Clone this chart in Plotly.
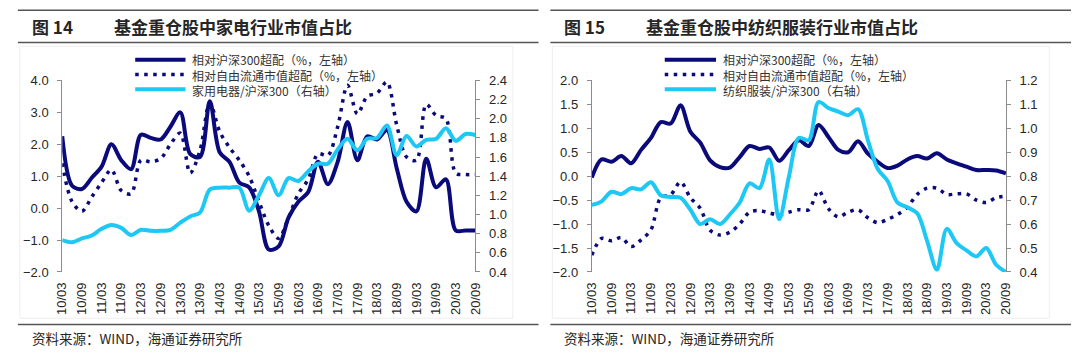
import plotly.graph_objects as go

# ---------------- data ----------------
quarters = ["10/03", "10/06", "10/09", "10/12", "11/03", "11/06", "11/09", "11/12",
            "12/03", "12/06", "12/09", "12/12", "13/03", "13/06", "13/09", "13/12",
            "14/03", "14/06", "14/09", "14/12", "15/03", "15/06", "15/09", "15/12",
            "16/03", "16/06", "16/09", "16/12", "17/03", "17/06", "17/09", "17/12",
            "18/03", "18/06", "18/09", "18/12", "19/03", "19/06", "19/09", "19/12",
            "20/03", "20/06", "20/09"]
tick_labels = ["10/03", "10/09", "11/03", "11/09", "12/03", "12/09", "13/03", "13/09",
               "14/03", "14/09", "15/03", "15/09", "16/03", "16/09", "17/03", "17/09",
               "18/03", "18/09", "19/03", "19/09", "20/03", "20/09"]

# 图14 家电
appl_vs_hs300 = [2.25, 0.7, 0.6, 0.95, 1.3, 2.0, 1.5, 1.22, 2.3, 2.2, 2.15, 2.55, 3.0, 1.7,
                 1.6, 3.35, 1.75, 1.45, 0.8, 0.65, -0.1, -1.3, -1.2, -0.3, 0.2, 0.5, 1.45,
                 0.75, 1.45, 2.7, 1.5, 2.25, 2.15, 2.45, 1.25, 0.2, -0.1, 1.55, 0.65, 0.9,
                 -0.7, -0.7, -0.7]
appl_vs_free = [1.4, 0.2, -0.1, 0.35, 0.8, 1.2, 0.55, 0.45, 1.5, 1.45, 1.55, 2.0, 2.35, 1.1,
                1.8, 3.3, 2.4, 1.9, 1.5, 1.0, 0.2, -0.55, -0.95, -0.3, 0.45, 0.9, 1.7, 1.65,
                2.55, 3.85, 2.95, 3.5, 3.6, 3.95, 2.6, 1.6, 1.5, 3.25, 2.9, 2.8, 1.1, 1.05,
                1.05]
appl_ratio = [0.733, 0.71, 0.75, 0.78, 0.85, 0.89, 0.86, 0.785, 0.84, 0.83, 0.83, 0.84,
              0.915, 0.98, 1.02, 1.26, 1.28, 1.28, 1.28, 1.04, 1.2, 1.38, 1.2, 1.38, 1.35,
              1.45, 1.53, 1.53, 1.68, 1.79, 1.67, 1.79, 1.8, 1.93, 1.62, 1.82, 1.71, 1.78,
              1.79, 1.9, 1.77, 1.84, 1.83]

# 图15 纺织服装
tex_vs_hs300 = [-0.03, 0.35, 0.3, 0.42, 0.27, 0.55, 0.8, 1.13, 1.1, 1.48, 0.93, 0.7, 0.33,
                0.19, 0.18, 0.4, 0.63, 0.57, 0.6, 0.32, 0.55, 0.75, 0.63, 1.07, 0.82, 0.55,
                0.5, 0.73, 0.47, 0.3, 0.17, 0.22, 0.35, 0.42, 0.37, 0.48, 0.35, 0.27, 0.2,
                0.13, 0.13, 0.12, 0.06]
tex_vs_free = [-1.65, -1.3, -1.35, -1.28, -1.47, -1.33, -1.12, -0.45, -0.39, -0.12, -0.45,
               -0.67, -1.13, -1.23, -1.17, -1.0, -0.75, -0.72, -0.77, -0.8, -0.75, -0.7,
               -0.7, -0.3, -0.68, -0.85, -0.75, -0.7, -0.87, -0.97, -0.9, -0.8, -0.65,
               -0.38, -0.25, -0.25, -0.38, -0.37, -0.37, -0.5, -0.55, -0.45, -0.42]
tex_ratio = [0.68, 0.695, 0.735, 0.725, 0.75, 0.745, 0.775, 0.72, 0.713, 0.71, 0.66, 0.6,
             0.62, 0.6, 0.64, 0.69, 0.77, 0.75, 0.87, 0.62, 0.8, 0.96, 0.95, 1.11, 1.085,
             1.07, 1.055, 1.08, 0.95, 0.83, 0.78, 0.69, 0.67, 0.645, 0.53, 0.41, 0.58,
             0.52, 0.49, 0.465, 0.5, 0.43, 0.4]

legend_left = ["相对沪深300超配（%，左轴）", "相对自由流通市值超配（%，左轴）", "家用电器/沪深300（右轴）"]
legend_right = ["相对沪深300超配（%，左轴）", "相对自由流通市值超配（%，左轴）", "纺织服装/沪深300（右轴）"]

# ---------------- style ----------------
W, H = 1080, 353
NAVY = "#0a0a7a"
CYAN = "#1ec8f5"
AXC = "#8c8c8c"
TXT = "#262626"
FONT = "Liberation Sans, Arial, Noto Sans CJK SC, sans-serif"
CJK = "Noto Sans CJK SC, Liberation Sans, sans-serif"
DOT = "3.5px,5.5px"


def fx(px):
    return px / W


def fy(py):
    return 1 - py / H


fig = go.Figure()


def add_line(y, xa, ya, color, dash, width):
    fig.add_trace(go.Scatter(x=quarters, y=y, xaxis=xa, yaxis=ya, mode="lines",
                             line=dict(color=color, width=width, dash=dash, shape="spline",
                                       smoothing=0.9),
                             showlegend=False, hoverinfo="skip"))


add_line(appl_vs_hs300, "x", "y", NAVY, "solid", 4)
add_line(appl_vs_free, "x", "y", NAVY, DOT, 3.5)
add_line(appl_ratio, "x", "y2", CYAN, "solid", 4)
add_line(tex_vs_hs300, "x2", "y3", NAVY, "solid", 4)
add_line(tex_vs_free, "x2", "y3", NAVY, DOT, 3.5)
add_line(tex_ratio, "x2", "y4", CYAN, "solid", 4)

Y0, Y1 = 276.7, 76.7
ydom = [fy(Y0), fy(Y1)]
L = dict(x0=55, x1=474)
R = dict(x0=592, x1=1012)

tickfont = dict(family=FONT, size=13, color=TXT)


def xcat(dom, anchor):
    return dict(domain=[fx(dom["x0"]), fx(dom["x1"])], anchor=anchor, type="category",
                categoryorder="array", categoryarray=quarters, range=[0, 42],
                tickmode="array", tickvals=tick_labels, ticktext=tick_labels,
                tickangle=-90, ticks="", showline=False, showgrid=False, zeroline=False,
                tickfont=tickfont, ticklabelstandoff=7)


def xticks(dom, overlay, ypos):
    return dict(domain=[fx(dom["x0"]), fx(dom["x1"])], overlaying=overlay, anchor="free",
                position=fy(ypos), type="linear", range=[0, 42], tick0=0, dtick=2,
                ticks="outside", ticklen=5, tickcolor=AXC, tickwidth=1,
                showticklabels=False, showline=True, linecolor=AXC, linewidth=1,
                showgrid=False, zeroline=False)


def yax(anchor, rng, dtick, side="left", overlay=None):
    d = dict(domain=ydom, anchor=anchor, range=rng, dtick=dtick, tick0=rng[0],
             tickformat=".1f", showline=True, linecolor=AXC, linewidth=1,
             ticks="outside", ticklen=4, tickcolor=AXC, showgrid=False, zeroline=False,
             tickfont=tickfont, side=side, ticklabelstandoff=6)
    if overlay:
        d["overlaying"] = overlay
    return d


fig.update_layout(
    width=W, height=H, margin=dict(l=0, r=0, t=0, b=0),
    paper_bgcolor="white", plot_bgcolor="rgba(0,0,0,0)",
    font=dict(family=FONT, color=TXT),
    showlegend=False,
    xaxis=xcat(L, "y"),
    xaxis2=xcat(R, "y3"),
    xaxis3=xticks(L, "x", 210.0),
    xaxis4=xticks(R, "x2", 176.7),
    yaxis=yax("x", [-2, 4], 1),
    yaxis2=yax("x", [0.4, 2.4], 0.2, side="right", overlay="y"),
    yaxis3=yax("x2", [-2, 2], 0.5),
    yaxis4=yax("x2", [0.4, 1.2], 0.1, side="right", overlay="y3"),
)

shapes = []
annotations = []


def hline(x0, x1, y, color="#555555", width=1.5):
    shapes.append(dict(type="line", xref="paper", yref="paper", x0=fx(x0), x1=fx(x1),
                       y0=fy(y), y1=fy(y), line=dict(color=color, width=width)))


def text(x, y, s, size, bold=False, anchor="left", color=TXT, family=CJK):
    annotations.append(dict(xref="paper", yref="paper", x=fx(x), y=fy(y),
                            text=(f"<b>{s}</b>" if bold else s),
                            showarrow=False, xanchor=anchor, yanchor="middle", align="left",
                            font=dict(family=family, size=size, color=color)))


for (a, b) in [(10, 538), (550, 1078)]:
    hline(a, b, 3.5)
    hline(a, b, 37.2)
    hline(a, b, 331.5)

# faint chart-area frames
for (a, b) in [(12, 512), (552, 1056)]:
    shapes.append(dict(type="rect", xref="paper", yref="paper", x0=fx(a), x1=fx(b),
                       y0=fy(325), y1=fy(41), line=dict(color="#eeeeee", width=1)))

# titles
text(22, 20, "图 14", 17, bold=True)
text(105, 20, "基金重仓股中家电行业市值占比", 17, bold=True)
text(562, 20, "图 15", 17, bold=True)
text(645, 20, "基金重仓股中纺织服装行业市值占比", 17, bold=True)

# source
text(22, 346, "资料来源：WIND，海通证券研究所", 13.5)
text(562, 346, "资料来源：WIND，海通证券研究所", 13.5)

# legends (samples as shapes, labels as one multi-line text block)
rows = [55, 70.5, 86]
styles = [(NAVY, "solid", 4), (NAVY, DOT, 3.5), (CYAN, "solid", 4)]
for (sx0, sx1, tx, labels) in [(129, 180, 185, legend_left), (666, 718, 723, legend_right)]:
    for ry, (c, d, w) in zip(rows, styles):
        shapes.append(dict(type="line", xref="paper", yref="paper", x0=fx(sx0), x1=fx(sx1),
                           y0=fy(ry), y1=fy(ry), line=dict(color=c, width=w, dash=d)))
    text(tx, rows[1], "<br>".join(labels), 12, color="#333333")

fig.update_layout(shapes=shapes, annotations=annotations)
fig.write_html("out.html")
